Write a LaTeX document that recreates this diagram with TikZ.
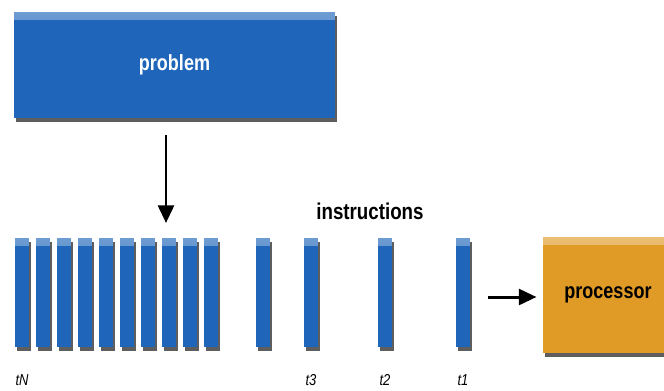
\documentclass[tikz,border=0pt]{standalone}
\usepackage{fontspec}
\setmainfont{Liberation Sans}[FakeStretch=0.82]
\usetikzlibrary{arrows.meta,shadows,positioning}
\definecolor{boxblue}{RGB}{31,102,186}
\definecolor{boxorange}{RGB}{224,155,38}
\begin{document}
\begin{tikzpicture}[x=0.02cm,y=-0.02cm,
  box/.style={rectangle,inner sep=0pt,fill=#1,
    drop shadow={shadow xshift=1pt,shadow yshift=-2.5pt,fill=black!90,opacity=0.7},
    path picture={\shade[top color=#1!65!white,bottom color=#1]
      (path picture bounding box.north west) rectangle ([yshift=-4pt]path picture bounding box.north east);}},
  bar/.style={box=boxblue,minimum width=0.28cm,minimum height=2.18cm},
  tlabel/.style={font=\fontsize{9}{10}\selectfont\itshape},
  bigtext/.style={font=\bfseries\fontsize{12.5}{15}\selectfont},
  flow/.style={line width=1.7pt,-{Triangle[length=10pt,width=9pt]}}]
\useasboundingbox (0,0) rectangle (664,390);
\node[box=boxblue,minimum width=6.42cm,minimum height=2.12cm,bigtext,text=white] (problem) at (174.5,65) {problem};
\foreach \i in {1,...,10}
  \node[bar] (b\i) at ({22+21*(\i-1)},292.5) {};
\node[bar] (b11) at (263,292.5) {};
\node[bar] (b12) at (311,292.5) {};
\node[bar] (b13) at (385,292.5) {};
\node[bar] (b14) at (463,292.5) {};
\node[tlabel,below=12pt of b1] (tN) {tN};
\node[tlabel,below=12pt of b12] (t3) {t3};
\node[tlabel,below=12pt of b13] (t2) {t2};
\node[tlabel,below=12pt of b14] (t1) {t1};
\node[font=\bfseries\fontsize{13}{15}\selectfont] (instr) at (370,211) {instructions};
\node[box=boxorange,minimum width=2.6cm,minimum height=2.32cm,bigtext] (proc) at (608,295) {processor};
\coordinate (drop) at (166,223);
\draw[flow] ([yshift=-9.5pt]problem.south -| drop) -- (drop);
\coordinate (feed) at (488,297);
\draw[flow,shorten >=3.5pt] (feed) -- (feed -| proc.west);
\end{tikzpicture}
\end{document}
